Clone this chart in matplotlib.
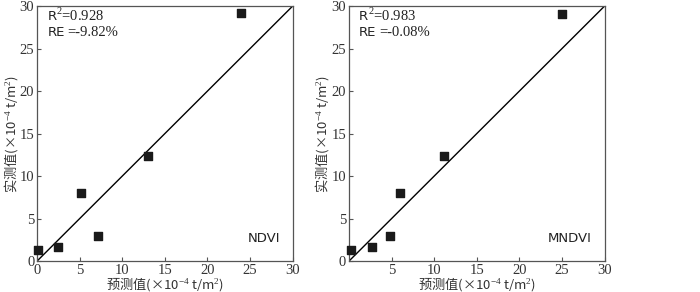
import matplotlib
matplotlib.use('Agg')
import matplotlib.pyplot as plt

plt.rcParams['font.family'] = ['Liberation Serif', 'Noto Sans CJK SC', 'DejaVu Sans']
plt.rcParams['mathtext.fontset'] = 'custom'
plt.rcParams['mathtext.rm'] = 'Liberation Serif'

# predicted vs measured (x10^-4 t/m2)
ndvi_pred = [0.1, 2.5, 5.1, 7.2, 13.0, 24.0]
ndvi_meas = [1.3, 1.6, 8.0, 3.0, 12.4, 29.2]
mndvi_pred = [0.25, 2.7, 4.8, 6.0, 11.1, 25.0]
mndvi_meas = [1.3, 1.7, 3.0, 8.0, 12.4, 29.1]

panels = [
    ('NDVI', ndvi_pred, ndvi_meas, '0.928', '-9.82%', [0, 5, 10, 15, 20, 25, 30]),
    ('MNDVI', mndvi_pred, mndvi_meas, '0.983', '-0.08%', [5, 10, 15, 20, 25, 30]),
]
ticks = [0, 5, 10, 15, 20, 25, 30]
grey = '#555555'
lab_fam = ['Noto Sans CJK SC', 'Liberation Serif']

fig = plt.figure(figsize=(7, 2.92), dpi=100, facecolor='w')
lefts = [0.053, 0.4986]

for left, (name, xs, ys, r2, re, xt) in zip(lefts, panels):
    ax = fig.add_axes([left, 0.106, 0.365, 0.873])
    ax.plot([0, 30], [0, 30], c='k', lw=1)
    ax.scatter(xs, ys, marker='s', s=28, c='#1a1a1a', zorder=3, clip_on=False)
    ax.set_xlim(0, 30)
    ax.set_ylim(0, 30)
    ax.set_xticks(xt)
    ax.set_yticks(ticks)
    ax.tick_params(direction='in', length=3, width=0.8, color=grey,
                   labelsize=10.5, labelcolor='#333333', pad=2)
    for s in ax.spines.values():
        s.set_color(grey)
        s.set_linewidth(0.9)
    ax.set_xlabel('预测值(×10$^{-4}$ t/m$^2$)', fontsize=9.5, color='#333333',
                  labelpad=-1, family=lab_fam)
    ax.set_ylabel('实测值(×10$^{-4}$ t/m$^2$)', fontsize=9.5, color='#333333',
                  labelpad=0, family=lab_fam)
    ax.text(0.04, 0.958, 'R', transform=ax.transAxes, fontsize=9.5,
            family='DejaVu Sans', color='#222222', va='center')
    ax.text(0.073, 0.962, '$^{2}$=' + r2, transform=ax.transAxes, fontsize=10.5,
            color='#222222', va='center')
    ax.text(0.04, 0.895, 'RE', transform=ax.transAxes, fontsize=9.5,
            family='DejaVu Sans', color='#222222', va='center')
    ax.text(0.12, 0.895, '=' + re, transform=ax.transAxes, fontsize=10.5,
            color='#222222', va='center')
    ax.text(0.95, 0.09, name, transform=ax.transAxes, fontsize=9.5,
            family='DejaVu Sans', color='#222222', ha='right', va='center')

plt.savefig('out.png', dpi=100)
